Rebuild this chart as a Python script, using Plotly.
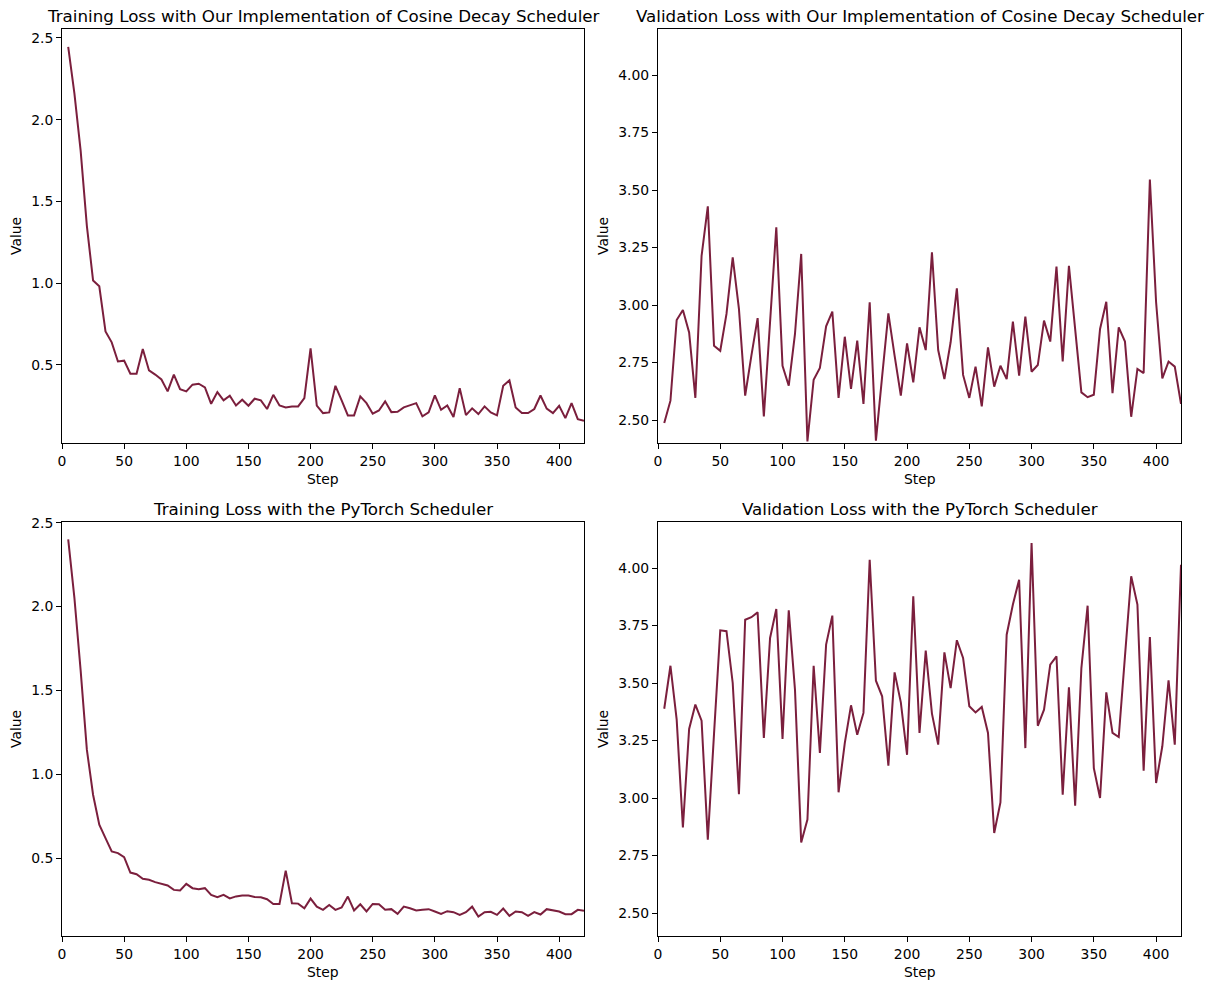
import plotly.graph_objects as go

steps = list(range(5, 425, 5))

train_ours = [2.445, 2.16, 1.81, 1.35, 1.016, 0.98, 0.704, 0.637, 0.52, 0.525,
              0.445, 0.445, 0.596, 0.465, 0.44, 0.41, 0.337, 0.44, 0.35, 0.337,
              0.378, 0.384, 0.361, 0.261, 0.333, 0.282, 0.31, 0.251, 0.286, 0.249,
              0.292, 0.282, 0.229, 0.316, 0.251, 0.239, 0.245, 0.245, 0.296, 0.600,
              0.250, 0.204, 0.208, 0.371, 0.282, 0.19, 0.19, 0.306, 0.265, 0.20,
              0.22, 0.276, 0.21, 0.212, 0.239, 0.251, 0.265, 0.184, 0.208, 0.312,
              0.224, 0.251, 0.18, 0.357, 0.192, 0.233, 0.198, 0.245, 0.208, 0.19,
              0.371, 0.404, 0.239, 0.204, 0.204, 0.229, 0.312, 0.231, 0.204, 0.249,
              0.173, 0.265, 0.167, 0.157]

val_ours = [2.487, 2.584, 2.935, 2.978, 2.881, 2.596, 3.214, 3.429, 2.823, 2.801,
            2.961, 3.207, 2.983, 2.606, 2.78, 2.943, 2.516, 2.92, 3.338, 2.736,
            2.649, 2.874, 3.222, 2.407, 2.675, 2.726, 2.907, 2.971, 2.596, 2.862,
            2.635, 2.845, 2.570, 3.012, 2.410, 2.69, 2.964, 2.78, 2.606, 2.833,
            2.664, 2.903, 2.804, 3.229, 2.804, 2.678, 2.838, 3.072, 2.696, 2.596,
            2.732, 2.559, 2.816, 2.645, 2.736, 2.678, 2.928, 2.693, 2.949, 2.71,
            2.739, 2.932, 2.841, 3.167, 2.755, 3.17, 2.88, 2.62, 2.599, 2.61,
            2.896, 3.014, 2.617, 2.903, 2.841, 2.514, 2.722, 2.704, 3.545, 3.012,
            2.681, 2.754, 2.732, 2.570]

train_torch = [2.40, 2.05, 1.62, 1.147, 0.878, 0.699, 0.619, 0.54, 0.53, 0.506,
               0.414, 0.404, 0.377, 0.371, 0.357, 0.345, 0.337, 0.311, 0.307, 0.347,
               0.321, 0.315, 0.321, 0.281, 0.267, 0.281, 0.26, 0.272, 0.277, 0.277,
               0.269, 0.267, 0.255, 0.227, 0.227, 0.426, 0.231, 0.229, 0.201, 0.259,
               0.211, 0.192, 0.221, 0.192, 0.206, 0.271, 0.188, 0.225, 0.182, 0.227,
               0.225, 0.192, 0.196, 0.168, 0.211, 0.201, 0.188, 0.192, 0.196, 0.182,
               0.168, 0.184, 0.178, 0.162, 0.178, 0.211, 0.152, 0.178, 0.180, 0.162,
               0.20, 0.156, 0.182, 0.178, 0.156, 0.178, 0.164, 0.196, 0.19, 0.182,
               0.166, 0.166, 0.192, 0.186]

val_torch = [3.388, 3.575, 3.341, 2.872, 3.30, 3.406, 3.336, 2.819, 3.28, 3.729,
             3.725, 3.50, 3.017, 3.775, 3.786, 3.807, 3.261, 3.696, 3.822, 3.257,
             3.816, 3.471, 2.807, 2.906, 3.575, 3.196, 3.667, 3.793, 3.025, 3.239,
             3.403, 3.275, 3.37, 4.036, 3.51, 3.442, 3.141, 3.546, 3.416, 3.188,
             3.877, 3.283, 3.641, 3.367, 3.232, 3.633, 3.478, 3.686, 3.609, 3.399,
             3.372, 3.396, 3.283, 2.848, 2.981, 3.71, 3.841, 3.949, 3.217, 4.109,
             3.314, 3.384, 3.58, 3.616, 3.014, 3.481, 2.967, 3.565, 3.836, 3.13,
             3.0, 3.459, 3.283, 3.265, 3.616, 3.964, 3.841, 3.119, 3.70, 3.065,
             3.225, 3.512, 3.232, 4.014]

titles = ["Training Loss with Our Implementation of Cosine Decay Scheduler",
          "Validation Loss with Our Implementation of Cosine Decay Scheduler",
          "Training Loss with the PyTorch Scheduler",
          "Validation Loss with the PyTorch Scheduler"]

x_ticks = [0, 50, 100, 150, 200, 250, 300, 350, 400]
y_ticks_train = [0.5, 1.0, 1.5, 2.0, 2.5]
y_ticks_val = [2.50, 2.75, 3.00, 3.25, 3.50, 3.75, 4.00]

W, H = 1212, 989
LINE = "#7b1f3d"
FONT = "DejaVu Sans"

# pixel boxes (left, right, top, bottom)
boxes = [(62, 584, 29, 443), (658, 1181, 29, 443),
         (62, 584, 522, 936), (658, 1181, 522, 936)]
value_x = [16, 603, 16, 603]
series = [train_ours, val_ours, train_torch, val_torch]
yranges = [[0.021, 2.555], [2.40, 4.20], [0.036, 2.504], [2.40, 4.20]]
yticks = [y_ticks_train, y_ticks_val, y_ticks_train, y_ticks_val]
yfmt = [".1f", ".2f", ".1f", ".2f"]

fig = go.Figure()
annotations = []
for i in range(4):
    l, r, t, b = boxes[i]
    xa = "xaxis" if i == 0 else f"xaxis{i+1}"
    ya = "yaxis" if i == 0 else f"yaxis{i+1}"
    xref = "x" if i == 0 else f"x{i+1}"
    yref = "y" if i == 0 else f"y{i+1}"
    fig.add_trace(go.Scatter(x=steps, y=series[i], mode="lines",
                             line=dict(color=LINE, width=2),
                             xaxis=xref, yaxis=yref, showlegend=False,
                             hoverinfo="skip"))
    common = dict(showline=True, linecolor="black", linewidth=1, mirror=True,
                  ticks="outside", ticklen=5, tickwidth=1, tickcolor="black",
                  showgrid=False, zeroline=False, automargin=False,
                  tickfont=dict(family=FONT, size=13.9, color="black"))
    fig.update_layout(**{
        xa: dict(domain=[l / W, r / W], range=[0, 420], tickvals=x_ticks,
                 anchor=yref, **common),
        ya: dict(domain=[(H - b) / H, (H - t) / H], range=yranges[i],
                 tickvals=yticks[i], tickformat=yfmt[i], anchor=xref, **common),
    })
    cx = (l + r) / 2
    annotations.append(dict(text=titles[i], x=cx / W, y=(H - (t - 13)) / H,
                            xref="paper", yref="paper", showarrow=False,
                            xanchor="center", yanchor="middle",
                            font=dict(family=FONT, size=16.7, color="black")))
    annotations.append(dict(text="Step", x=cx / W, y=(H - (b + 36)) / H,
                            xref="paper", yref="paper", showarrow=False,
                            xanchor="center", yanchor="middle",
                            font=dict(family=FONT, size=13.9, color="black")))
    annotations.append(dict(text="Value", x=value_x[i] / W, y=(H - (t + b) / 2) / H,
                            xref="paper", yref="paper", showarrow=False,
                            textangle=-90, xanchor="center", yanchor="middle",
                            font=dict(family=FONT, size=13.9, color="black")))

fig.update_layout(template="none", width=W, height=H,
                  margin=dict(l=0, r=0, t=0, b=0, autoexpand=False),
                  paper_bgcolor="white", plot_bgcolor="white",
                  font=dict(family=FONT, color="black"),
                  annotations=annotations)

fig.write_html("out.html")
